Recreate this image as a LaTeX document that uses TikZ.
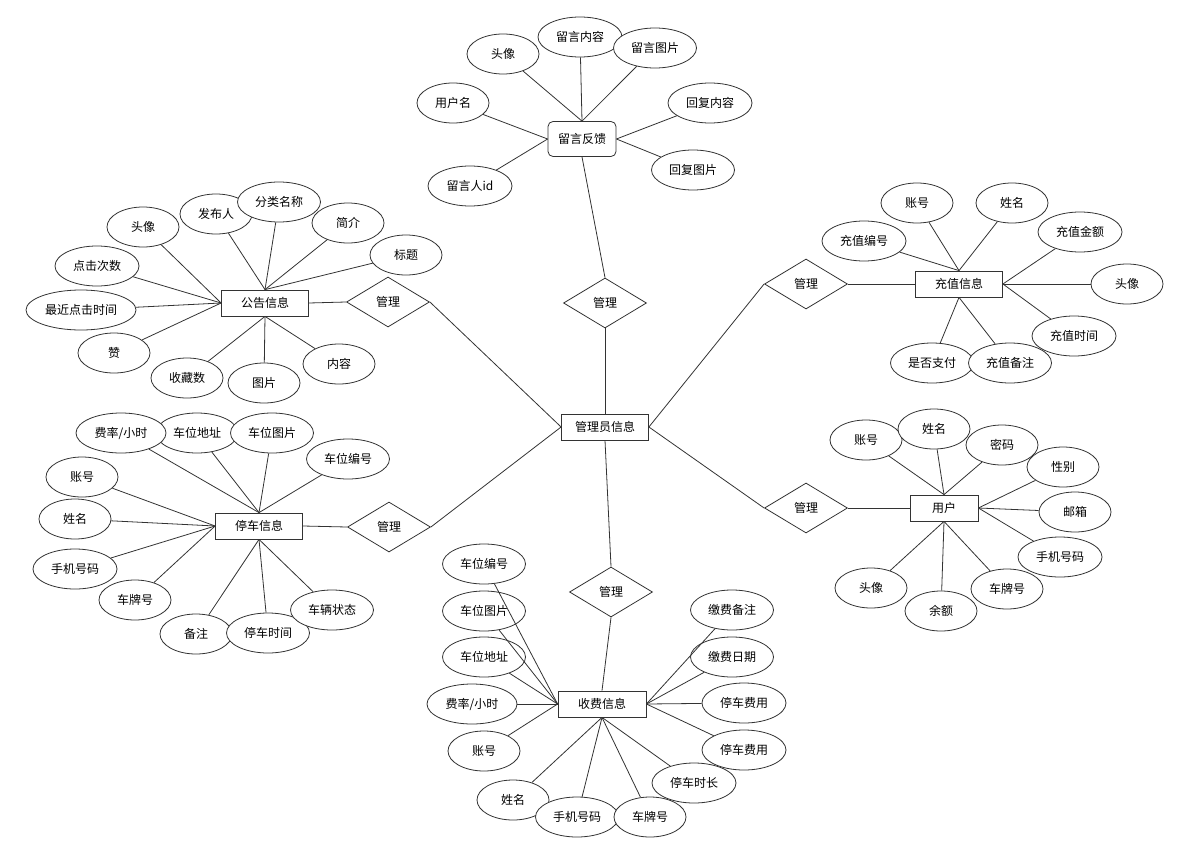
\documentclass[tikz,border=0pt]{standalone}
\usepackage{fontspec}
\setmainfont{Noto Sans CJK SC}
\usetikzlibrary{shapes.geometric}
\definecolor{lc}{HTML}{333333}
\begin{document}
\begin{tikzpicture}[x=1pt,y=-1pt,
  every node/.style={font=\fontsize{12}{14}\selectfont},
  attr/.style={ellipse,draw=lc,fill=white,line width=0.8pt,minimum width=#1,minimum height=40pt,inner sep=0pt},
  attr/.default=72pt,
  ent/.style={rectangle,draw=lc,fill=white,line width=0.8pt,minimum width=87pt,minimum height=26pt,inner sep=0pt},
  rbox/.style={rectangle,rounded corners=5pt,draw=lc,fill=white,line width=0.8pt,minimum width=68pt,minimum height=35pt,inner sep=0pt},
  rel/.style={diamond,draw=lc,fill=white,line width=0.8pt,minimum width=83pt,minimum height=50pt,inner sep=0pt},
  ln/.style={draw=lc,line width=0.8pt}]
\useasboundingbox (0,0) rectangle (1185,848);

% ---------- 留言反馈 ----------
\node[rbox] (ly) at (582,139) {留言反馈};
\node[attr] (ly1) at (503,54) {头像};
\node[attr=84pt] (ly2) at (580,37) {留言内容};
\node[attr=83pt] (ly3) at (655,48) {留言图片};
\node[attr] (ly4) at (453,103) {用户名};
\node[attr=84pt] (ly5) at (710,103) {回复内容};
\node[attr=84pt] (ly6) at (470,186) {留言人id};
\node[attr=83pt] (ly7) at (693,170) {回复图片};
\draw[ln] (ly.north) -- (ly1);
\draw[ln] (ly.north) -- (ly2);
\draw[ln] (ly.north) -- (ly3);
\draw[ln] (ly.west) -- (ly4);
\draw[ln] (ly.west) -- (ly6);
\draw[ln] (ly.east) -- (ly5);
\draw[ln] (ly.east) -- (ly7);

% ---------- centre ----------
\node[rel] (r0) at (605,303) {管理};
\node[ent] (adm) at (605,427) {管理员信息};
\draw[ln] (r0.north) -- (ly.south);
\draw[ln] (r0.south) -- (adm.north);

% ---------- 公告信息 ----------
\node[ent] (gg) at (265,303) {公告信息};
\node[rel] (r1) at (388,302) {管理};
\draw[ln] (gg.east) -- (r1.west);
\draw[ln] (r1.east) -- (adm.west);
\node[attr] (g1) at (143,227) {头像};
\node[attr] (g2) at (216,214) {发布人};
\node[attr=83pt] (g3) at (279,202) {分类名称};
\node[attr] (g4) at (348,223) {简介};
\node[attr] (g5) at (406,255) {标题};
\node[attr=84pt] (g6) at (97,266) {点击次数};
\node[attr=110pt] (g7) at (81,310) {最近点击时间};
\node[attr] (g8) at (114,353) {赞};
\node[attr] (g9) at (187,378) {收藏数};
\node[attr] (g10) at (264,383) {图片};
\node[attr] (g11) at (339,364) {内容};
\draw[ln] (gg.west) -- (g1);
\draw[ln] (gg.north) -- (g2);
\draw[ln] (gg.north) -- (g3);
\draw[ln] (gg.north) -- (g4);
\draw[ln] (gg.north) -- (g5);
\draw[ln] (gg.west) -- (g6);
\draw[ln] (gg.west) -- (g7);
\draw[ln] (gg.west) -- (g8);
\draw[ln] (gg.south) -- (g9);
\draw[ln] (gg.south) -- (g10);
\draw[ln] (gg.south) -- (g11);

% ---------- 充值信息 ----------
\node[ent] (cz) at (959,284) {充值信息};
\node[rel] (r2) at (806,284) {管理};
\draw[ln] (r2.east) -- (cz.west);
\draw[ln] (adm.east) -- (r2.west);
\node[attr] (c1) at (917,203) {账号};
\node[attr] (c2) at (1012,203) {姓名};
\node[attr=84pt] (c3) at (1080,232) {充值金额};
\node[attr=84pt] (c4) at (864,241) {充值编号};
\node[attr] (c5) at (1127,284) {头像};
\node[attr=84pt] (c6) at (1074,336) {充值时间};
\node[attr=83pt] (c7) at (932,363) {是否支付};
\node[attr=83pt] (c8) at (1010,363) {充值备注};
\draw[ln] (cz.north) -- (c1);
\draw[ln] (cz.north) -- (c2);
\draw[ln] (cz.north) -- (c4);
\draw[ln] (cz.east) -- (c3);
\draw[ln] (cz.east) -- (c5);
\draw[ln] (cz.east) -- (c6);
\draw[ln] (cz.south) -- (c7);
\draw[ln] (cz.south) -- (c8);

% ---------- 停车信息 ----------
\node[ent] (tc) at (259,526) {停车信息};
\node[rel] (r3) at (389,527) {管理};
\draw[ln] (tc.east) -- (r3.west);
\draw[ln] (r3.east) -- (adm.west);
\node[attr=82pt] (t2) at (197,433) {车位地址};
\node[attr=90pt] (t1) at (121,433) {费率/小时};
\node[attr=83pt] (t3) at (272,433) {车位图片};
\node[attr=83pt] (t4) at (348,459) {车位编号};
\node[attr] (t5) at (82,477) {账号};
\node[attr] (t6) at (75,519) {姓名};
\node[attr=84pt] (t7) at (75,569) {手机号码};
\node[attr] (t8) at (135,600) {车牌号};
\node[attr] (t9) at (196,634) {备注};
\node[attr=83pt] (t10) at (268,633) {停车时间};
\node[attr=83pt] (t11) at (332,610) {车辆状态};
\draw[ln] (tc.north) -- (t1);
\draw[ln] (tc.north) -- (t2);
\draw[ln] (tc.north) -- (t3);
\draw[ln] (tc.north) -- (t4);
\draw[ln] (tc.west) -- (t5);
\draw[ln] (tc.west) -- (t6);
\draw[ln] (tc.west) -- (t7);
\draw[ln] (tc.west) -- (t8);
\draw[ln] (tc.south) -- (t9);
\draw[ln] (tc.south) -- (t10);
\draw[ln] (tc.south) -- (t11);

% ---------- 用户 ----------
\node[ent,minimum width=68pt] (yh) at (944,508) {用户};
\node[rel] (r4) at (806,508) {管理};
\draw[ln] (r4.east) -- (yh.west);
\draw[ln] (adm.east) -- (r4.west);
\node[attr] (u1) at (866,440) {账号};
\node[attr] (u2) at (934,429) {姓名};
\node[attr] (u3) at (1002,445) {密码};
\node[attr] (u4) at (1063,467) {性别};
\node[attr] (u5) at (1075,512) {邮箱};
\node[attr=84pt] (u6) at (1060,557) {手机号码};
\node[attr] (u7) at (1007,589) {车牌号};
\node[attr] (u8) at (941,611) {余额};
\node[attr] (u9) at (871,588) {头像};
\draw[ln] (yh.north) -- (u1);
\draw[ln] (yh.north) -- (u2);
\draw[ln] (yh.north) -- (u3);
\draw[ln] (yh.east) -- (u4);
\draw[ln] (yh.east) -- (u5);
\draw[ln] (yh.east) -- (u6);
\draw[ln] (yh.south) -- (u7);
\draw[ln] (yh.south) -- (u8);
\draw[ln] (yh.south) -- (u9);

% ---------- 收费信息 ----------
\node[ent,minimum width=88pt] (sf) at (602,704) {收费信息};
\node[rel] (r5) at (611,592) {管理};
\draw[ln] (adm.south) -- (r5.north);
\draw[ln] (r5.south) -- (sf.north);
\node[attr=83pt] (s1) at (484,564) {车位编号};
\node[attr=83pt] (s2) at (484,611) {车位图片};
\node[attr=83pt] (s3) at (484,657) {车位地址};
\node[attr=90pt] (s4) at (472,704) {费率/小时};
\node[attr] (s5) at (484,751) {账号};
\node[attr] (s6) at (513,800) {姓名};
\node[attr=83pt] (s7) at (577,817) {手机号码};
\node[attr] (s8) at (650,817) {车牌号};
\node[attr=84pt] (s9) at (694,783) {停车时长};
\node[attr=84pt] (s10) at (744,750) {停车费用};
\node[attr=84pt] (s11) at (744,703) {停车费用};
\node[attr=83pt] (s12) at (732,657) {缴费日期};
\node[attr=83pt] (s13) at (732,610) {缴费备注};
\draw[ln] (sf.west) -- (s1);
\draw[ln] (sf.west) -- (s2);
\draw[ln] (sf.west) -- (s3);
\draw[ln] (sf.west) -- (s4);
\draw[ln] (sf.west) -- (s5);
\draw[ln] (sf.south) -- (s6);
\draw[ln] (sf.south) -- (s7);
\draw[ln] (sf.south) -- (s8);
\draw[ln] (sf.south) -- (s9);
\draw[ln] (sf.east) -- (s10);
\draw[ln] (sf.east) -- (s11);
\draw[ln] (sf.east) -- (s12);
\draw[ln] (sf.east) -- (s13);
\end{tikzpicture}
\end{document}
